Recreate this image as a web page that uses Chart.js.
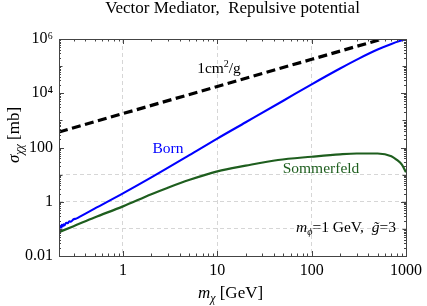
<!DOCTYPE html>
<html lang="en">
<head>
<meta charset="UTF-8">
<title>Vector Mediator, Repulsive potential</title>
<script src="https://cdn.jsdelivr.net/npm/chart.js@4.4.1/dist/chart.umd.min.js"></script>
<style>
  body { margin: 0; background: #fff; }
  canvas { display: block; }
</style>
</head>
<body>
<canvas id="chart" width="427" height="306"></canvas>

<script>
// values (m in GeV, sigma in mb)
var dashX = [0.21, 1, 10, 100, 560];
var dashY = [370, 1780, 17800, 178000, 1000000];

var bornX = [0.21, 0.215, 0.22, 0.225, 0.23, 0.235, 0.24, 0.25, 0.26, 0.27, 0.28, 0.3, 0.32, 0.35, 0.5, 1, 2, 5, 10, 20, 50, 100, 200, 316, 500, 700, 1000];
var bornY = [0.107, 0.126, 0.11, 0.141, 0.122, 0.149, 0.135, 0.167, 0.161, 0.19, 0.185, 0.226, 0.239, 0.283, 0.557, 2.04, 7.9, 51, 214, 851, 5300, 21400, 82000, 190000, 410000, 660000, 1000000];

var sommX = [0.21, 0.3, 0.5, 1, 2, 3, 5, 10, 20, 44, 100, 200, 300, 500, 700, 800, 900, 1000];
var sommY = [0.076, 0.126, 0.263, 0.676, 1.9, 3.3, 6.3, 13.2, 21.4, 34.7, 45.7, 56, 60, 60, 48, 35, 24, 12.3];

var xTicks = [1, 10, 100, 1000];
var xTickLabels = ['1', '10', '100', '1000'];
var yTicks = [0.01, 0.1, 1, 10, 100, 1000, 10000, 100000, 1000000];
var yTickLabels = ['0.01', '', '1', '', '100', '', '10\u2074', '', '10\u2076'];
var xGrid = [1, 10, 100];
var yGrid = [0.1, 1, 10];

var serif = '"Liberation Serif", "Times New Roman", serif';
var green = '#1e5e1e';

function pts(xs, ys) {
    return xs.map(function (x, i) { return {x: x, y: ys[i]}; });
}

function rich(ctx, parts, x, y, align) {
    var w = 0;
    ctx.textAlign = 'left';
    parts.forEach(function (p) { ctx.font = p.f; w += ctx.measureText(p.t).width; });
    var cx = align === 'center' ? x - w / 2 : (align === 'right' ? x - w : x);
    parts.forEach(function (p) {
        ctx.font = p.f;
        ctx.fillStyle = p.c || '#000';
        ctx.fillText(p.t, cx, y + (p.dy || 0));
        cx += ctx.measureText(p.t).width;
    });
}

// frame, inward ticks and the labels inside the plot
var decor = {
    id: 'decor',
    afterDatasetsDraw: function (chart) {
        var ctx = chart.ctx, a = chart.chartArea;
        var xs = chart.scales.x, ys = chart.scales.y;
        ctx.save();
        ctx.strokeStyle = '#444';
        ctx.lineWidth = 1;
        ctx.setLineDash([]);
        ctx.strokeRect(Math.round(a.left) + 0.5, Math.round(a.top) + 0.5,
            Math.round(a.right - a.left), Math.round(a.bottom - a.top));

        ctx.beginPath();
        [0.1, 1, 10, 100].forEach(function (d) {
            for (var k = 1; k < 10; k++) {
                var v = k * d;
                if (v < xs.min || v > xs.max) continue;
                var px = Math.round(xs.getPixelForValue(v)) + 0.5;
                var len = k === 1 ? 5 : 2.5;
                ctx.moveTo(px, a.bottom); ctx.lineTo(px, a.bottom - len);
                ctx.moveTo(px, a.top); ctx.lineTo(px, a.top + len);
            }
        });
        yTicks.forEach(function (d, i) {
            for (var k = 1; k < 10; k++) {
                var v = k * d;
                if (v < ys.min || v > ys.max) continue;
                var py = Math.round(ys.getPixelForValue(v)) + 0.5;
                var len = k === 1 ? (yTickLabels[i] ? 5 : 3.5) : 2;
                ctx.moveTo(a.left, py); ctx.lineTo(a.left + len, py);
                ctx.moveTo(a.right, py); ctx.lineTo(a.right - len, py);
            }
        });
        ctx.stroke();

        ctx.textBaseline = 'alphabetic';
        var cx = (a.left + a.right) / 2;
        rich(ctx, [{t: 'Vector Mediator,  Repulsive potential', f: '17px ' + serif}], cx, 13, 'center');

        rich(ctx, [
            {t: '1cm', f: '15.5px ' + serif},
            {t: '2', f: '10px ' + serif, dy: -6},
            {t: '/g', f: '15.5px ' + serif}
        ], 219, 73, 'center');
        rich(ctx, [{t: 'Born', f: '15.5px ' + serif, c: '#0000ff'}], 168, 153, 'center');
        rich(ctx, [{t: 'Sommerfeld', f: '15.5px ' + serif, c: green}], 321, 173, 'center');
        rich(ctx, [
            {t: 'm', f: 'italic 15.5px ' + serif},
            {t: '\u03d5', f: 'italic 10px ' + serif, dy: 3},
            {t: '=1 GeV,  ', f: '15.5px ' + serif},
            {t: 'g\u0303', f: 'italic 15.5px ' + serif},
            {t: '=3', f: '15.5px ' + serif}
        ], 346, 232, 'center');

        rich(ctx, [
            {t: 'm', f: 'italic 17px ' + serif},
            {t: '\u03c7', f: 'italic 12px ' + serif, dy: 4},
            {t: ' [GeV]', f: '17px ' + serif}
        ], cx - 2, 298, 'center');

        ctx.translate(19, 135);
        ctx.rotate(-Math.PI / 2);
        rich(ctx, [
            {t: '\u03c3', f: 'italic 17px ' + serif},
            {t: '\u03c7\u03c7', f: 'italic 12px ' + serif, dy: 4},
            {t: ' [mb]', f: '17px ' + serif}
        ], 0, 0, 'center');
        ctx.restore();
    }
};

var ctx = document.getElementById('chart').getContext('2d');
var chart = new Chart(ctx, {
    type: 'scatter',
    data: {
        datasets: [
            {data: pts(dashX, dashY), showLine: true, borderColor: '#000', borderWidth: 3.2, borderDash: [9, 4.5]},
            {data: pts(bornX, bornY), showLine: true, borderColor: '#0000ff', borderWidth: 2.1, cubicInterpolationMode: 'monotone'},
            {data: pts(sommX, sommY), showLine: true, borderColor: green, borderWidth: 2.2, cubicInterpolationMode: 'monotone'}
        ]
    },
    options: {
        responsive: false,
        animation: false,
        layout: {padding: {left: 0, right: 17, top: 39, bottom: 0}},
        elements: {point: {radius: 0}},
        plugins: {legend: {display: false}, tooltip: {enabled: false}, title: {display: false}},
        scales: {
            x: {
                type: 'logarithmic', min: 0.21, max: 1000,
                afterBuildTicks: function (s) { s.ticks = xTicks.map(function (v) { return {value: v}; }); },
                afterFit: function (s) { s.height = 50; },
                ticks: {
                    autoSkip: false, maxRotation: 0, padding: 5, color: '#000',
                    font: {family: serif, size: 16},
                    callback: function (v) { return xTickLabels[xTicks.indexOf(v)]; }
                },
                grid: {
                    drawTicks: false, lineWidth: 1,
                    color: function (c) { return c.tick && xGrid.indexOf(c.tick.value) >= 0 ? '#d6d6d6' : 'rgba(0,0,0,0)'; }
                },
                border: {display: false, dash: [4, 3]}
            },
            y: {
                type: 'logarithmic', min: 0.01, max: 1000000,
                afterBuildTicks: function (s) { s.ticks = yTicks.map(function (v) { return {value: v}; }); },
                afterFit: function (s) { s.width = 59; },
                ticks: {
                    autoSkip: false, padding: 6, color: '#000',
                    font: {family: serif, size: 16},
                    callback: function (v) { return yTickLabels[yTicks.indexOf(v)]; }
                },
                grid: {
                    drawTicks: false, lineWidth: 1,
                    color: function (c) { return c.tick && yGrid.indexOf(c.tick.value) >= 0 ? '#d6d6d6' : 'rgba(0,0,0,0)'; }
                },
                border: {display: false, dash: [4, 3]}
            }
        }
    },
    plugins: [decor]
});
</script>
</body>
</html>
